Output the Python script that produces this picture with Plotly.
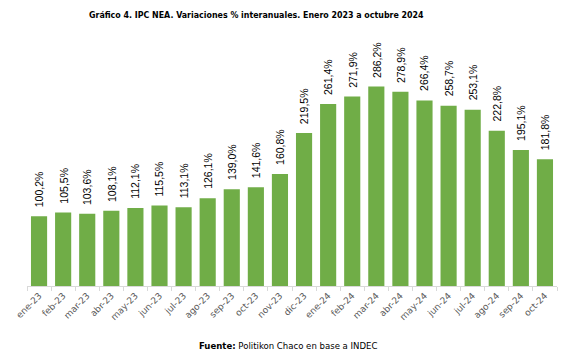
import plotly.graph_objects as go

categories = ["ene-23", "feb-23", "mar-23", "abr-23", "may-23", "jun-23", "jul-23", "ago-23",
              "sep-23", "oct-23", "nov-23", "dic-23", "ene-24", "feb-24", "mar-24", "abr-24",
              "may-24", "jun-24", "jul-24", "ago-24", "sep-24", "oct-24"]
values = [100.2, 105.5, 103.6, 108.1, 112.1, 115.5, 113.1, 126.1, 139.0, 141.6, 160.8, 219.5,
          261.4, 271.9, 286.2, 278.9, 266.4, 258.7, 253.1, 222.8, 195.1, 181.8]
labels = [f"{v:.1f}".replace(".", ",") + "%" for v in values]

# page body has an 8px margin, so the figure is laid out 8px smaller
OFF = 8
PL, PR, PT, PB = 27, 557, 77, 286  # plot area in window pixels

fig = go.Figure()
fig.add_trace(go.Bar(x=categories, y=values, marker_color="#70AD47", marker_line_width=0))

for c, v, t in zip(categories, values, labels):
    fig.add_annotation(x=c, y=v, text=t, textangle=-90, showarrow=False,
                       xanchor="center", yanchor="bottom", yshift=7,
                       font=dict(family="Liberation Sans, Arial", size=10.5, color="#000000"))

fig.add_annotation(xref="paper", yref="paper", x=(256 - PL) / (PR - PL), y=1, yanchor="middle",
                   yshift=PT - 15, showarrow=False,
                   text="<b>Gráfico 4. IPC NEA. Variaciones % interanuales. Enero 2023 a octubre 2024</b>",
                   font=dict(family="DejaVu Sans Condensed", size=8.8, color="#000000"))
fig.add_annotation(xref="paper", yref="paper", x=(288 - PL) / (PR - PL), y=0, yanchor="middle",
                   yshift=-(345 - PB), showarrow=False,
                   text="<b>Fuente:</b> Politikon Chaco en base a INDEC",
                   font=dict(family="DejaVu Sans Condensed", size=9.5, color="#000000"))

W, H = 587 - OFF, 359 - OFF
fig.update_layout(
    width=W, height=H,
    margin=dict(l=PL - OFF, r=W - (PR - OFF), t=PT - OFF, b=H - (PB - OFF)),
    plot_bgcolor="white", paper_bgcolor="white",
    bargap=0.33, showlegend=False,
)
fig.update_xaxes(showline=True, linecolor="#D9D9D9", linewidth=1, ticks="outside",
                 tickson="boundaries", ticklen=4, tickcolor="#D9D9D9", tickangle=-45,
                 automargin=False,
                 tickfont=dict(family="DejaVu Sans, Liberation Sans", size=9, color="#595959"),
                 showgrid=False)
fig.update_yaxes(range=[0, 300], visible=False, showgrid=False, automargin=False)

fig.write_html("out.html")
